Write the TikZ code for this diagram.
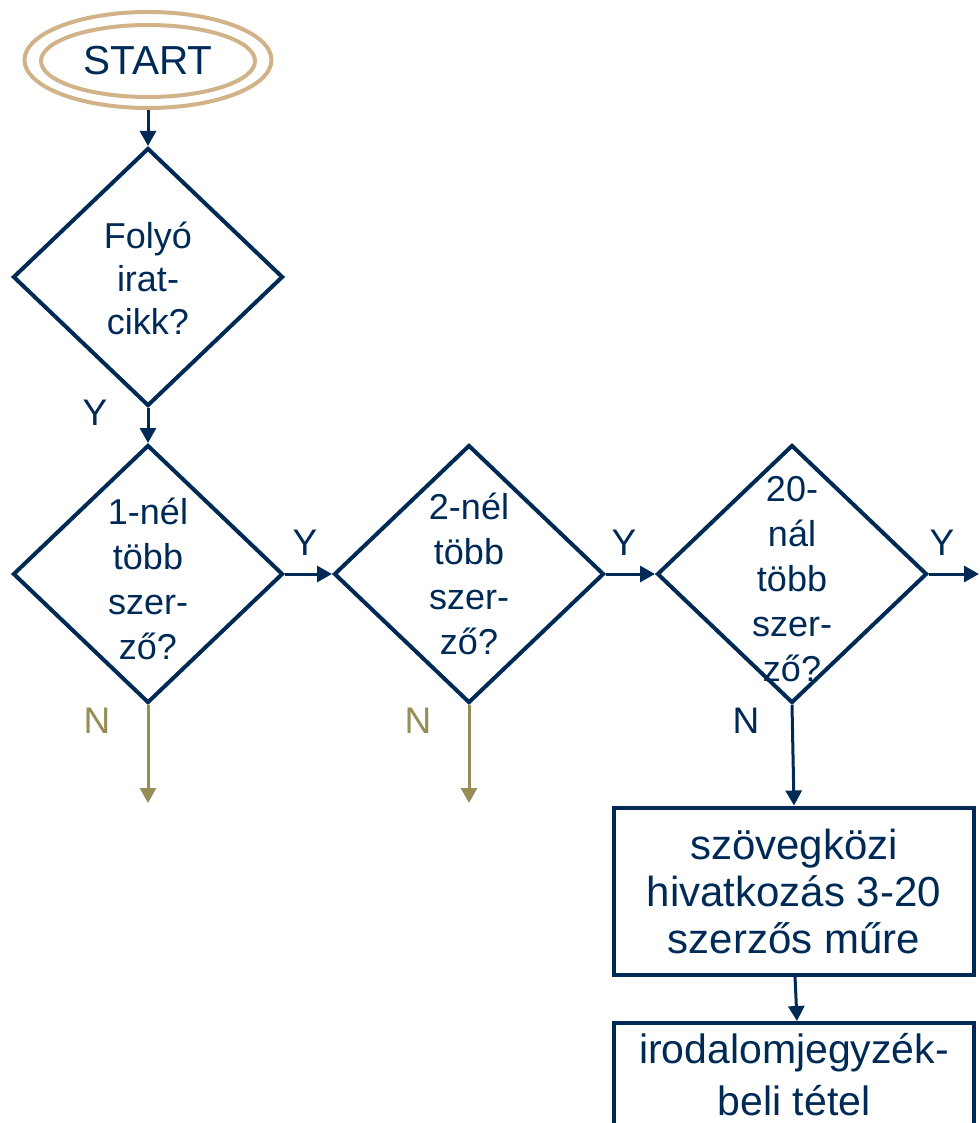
\documentclass[tikz,border=0pt]{standalone}
\usepackage{fontspec}
\setmainfont{Liberation Sans}
\usetikzlibrary{shapes.geometric,arrows.meta}
\definecolor{navy}{RGB}{0,42,86}
\definecolor{tan}{RGB}{210,178,136}
\definecolor{olive}{RGB}{150,140,85}
\tikzset{
  dia/.style={diamond, draw=navy, line width=4pt, minimum width=270pt, minimum height=258pt, inner sep=0pt},
  dtext/.style={text=navy, align=center, font=\fontsize{36}{45}\selectfont, inner sep=0pt},
  boxnode/.style={draw=navy, line width=4pt, text=navy, align=center, inner sep=0pt},
  lab/.style={text=navy, font=\fontsize{37}{44}\selectfont, inner sep=0pt},
  olab/.style={text=olive, font=\fontsize{37}{44}\selectfont, inner sep=0pt},
  conn/.style={draw=navy, line width=3pt, -{Triangle[length=15pt,width=16pt]}},
  oconn/.style={draw=olive, line width=3pt, -{Triangle[length=15pt,width=16pt]}},
  oval/.style={ellipse, draw=tan, line width=4pt, inner sep=0pt}
}
\begin{document}
\begin{tikzpicture}[x=1pt,y=-1pt]
\useasboundingbox (0,0) rectangle (979,1123);
% START
\node[oval, minimum width=247pt, minimum height=96pt] (startout) at (148,60) {};
\node[oval, minimum width=214pt, minimum height=72pt, text=navy, font=\fontsize{40.5}{48}\selectfont] (start) at (148,61) {START};
% diamonds
\node[dia] (d1) at (148,277) {};
\node[dtext, font=\fontsize{36}{43}\selectfont] (t1) at (148,278) {Folyó\\irat-\\cikk?};
\node[dia] (d2) at (148,574) {};
\node[dtext] (t2) at (148,579) {1-nél\\több\\szer-\\ző?};
\node[dia] (d3) at (469,574) {};
\node[dtext] (t3) at (469,574) {2-nél\\több\\szer-\\ző?};
\node[dia] (d4) at (792,574) {};
\node[dtext] (t4) at (792,579) {20-\\nál\\több\\szer-\\ző?};
% boxes
\node[boxnode, minimum width=360pt, minimum height=167pt, font=\fontsize{42}{47}\selectfont] (b1) at (794,891) {szövegközi\\hivatkozás 3-20\\szerzős műre};
\node[boxnode, minimum width=360pt, minimum height=104pt, font=\fontsize{41}{52}\selectfont] (b2) at (794,1075) {irodalomjegyzék-\\beli tétel};
% free ends
\coordinate (e4) at (979,574);
\coordinate (e2) at (148,803);
\coordinate (e3) at (469,803);
% connectors
\draw[conn] (startout.south) -- (d1.north);
\draw[conn] (d1.south) -- (d2.north);
\draw[conn] (d2.east) -- (d3.west);
\draw[conn] (d3.east) -- (d4.west);
\draw[conn] (d4.east) -- (e4);
\draw[oconn] (d2.south) -- (e2);
\draw[oconn] (d3.south) -- (e3);
\draw[conn] (d4.south) -- (b1.north);
\draw[conn] ([xshift=1pt]b1.south) -- ([xshift=3pt]b2.north);
% labels
\node[lab] (y1) at (95,413) {Y};
\node[lab] (y2) at (305,543) {Y};
\node[lab] (y3) at (624,543) {Y};
\node[lab] (y4) at (942,543) {Y};
\node[olab] (n2) at (97,721) {N};
\node[olab] (n3) at (418,721) {N};
\node[lab] (n4) at (746,721) {N};
\end{tikzpicture}
\end{document}
